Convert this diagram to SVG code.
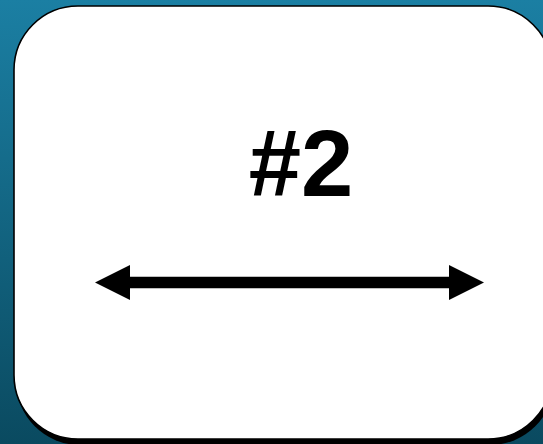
<svg xmlns="http://www.w3.org/2000/svg" width="543" height="444" viewBox="0 0 543 444">
  <defs>
    <linearGradient id="bg" x1="0" y1="0" x2="0" y2="1">
      <stop offset="0" stop-color="#1b7fa3"/>
      <stop offset="1" stop-color="#0a4a60"/>
    </linearGradient>
    <marker id="head" markerUnits="userSpaceOnUse" markerWidth="36" markerHeight="36" refX="0" refY="17.5" orient="auto-start-reverse" viewBox="0 0 36 36">
      <path d="M0,0 L35,17.5 L0,35 Z" fill="#000"/>
    </marker>
    <style>
      .card { fill: #ffffff; stroke: #000000; stroke-width: 1.6; }
      .shadow { fill: #000000; }
      .label { font-family: "Liberation Sans", Arial, sans-serif; font-weight: bold; font-size: 94px; fill: #000000; }
      .conn { stroke: #000000; stroke-width: 11.5; fill: none; }
    </style>
  </defs>
  <rect x="0" y="0" width="543" height="444" fill="url(#bg)"/>
  <g id="node-2">
    <rect class="shadow" x="16" y="12" width="538" height="433" rx="64" ry="64"/>
    <rect class="card" x="14" y="6" width="538" height="433" rx="64" ry="64"/>
    <text class="label" x="301" y="196" text-anchor="middle">#2</text>
  </g>
  <g id="connectors">
    <line class="conn" x1="130" y1="282.5" x2="449" y2="282.5" marker-start="url(#head)" marker-end="url(#head)"/>
  </g>
</svg>
